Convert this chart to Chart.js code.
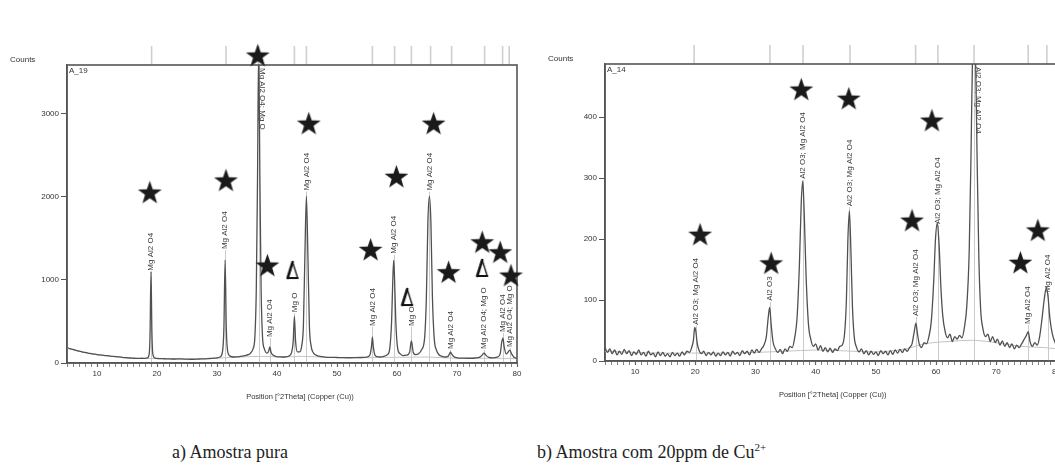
<!DOCTYPE html>
<html><head><meta charset="utf-8">
<script src="https://cdn.jsdelivr.net/npm/chart.js@4"></script>
<style>
html,body{margin:0;padding:0;background:#fff;overflow:hidden;width:1055px;height:468px;position:relative;}
#cA{position:absolute;left:0;top:0;}
#cB{position:absolute;left:530px;top:0;}
.cap{position:absolute;top:442px;font-family:"Liberation Serif","Times New Roman",serif;font-size:18px;line-height:20px;color:#222;white-space:nowrap;}
.cap sup{font-size:11px;vertical-align:7px;line-height:0;}
</style></head>
<body>
<canvas id="cA" width="530" height="430"></canvas>
<canvas id="cB" width="545" height="430"></canvas>
<div class="cap" style="left:172px">a) Amostra pura</div>
<div class="cap" style="left:537px">b) Amostra com 20ppm de Cu<sup>2+</sup></div>
<script>
// ---------- data: sample A_19 (pure) ----------
const pureScan = [[5.0,185],[5.5,172],[6.0,163],[6.5,151],[7.0,143],[7.5,135],[8.0,127],[8.5,120],[9.0,114],[9.5,108],[10.0,102],[10.5,97],[11.0,93],[11.5,89],[12.0,86],[12.5,81],[13.0,78],[13.5,74],[14.0,71],[14.5,66],[15.0,63],[15.5,60],[16.0,58],[16.5,56],[17.0,55],[17.5,57],[18.0,56],[18.4,62],[18.7,110],[18.85,380],[19.0,1100],[19.15,380],[19.3,110],[19.6,62],[20.0,56],[20.5,53],[21.0,52],[21.5,50],[22.0,50],[22.5,48],[23.0,48],[23.5,49],[24.0,50],[24.5,47],[25.0,47],[25.5,45],[26.0,45],[26.5,46],[27.0,48],[27.5,49],[28.0,50],[28.5,52],[29.0,55],[29.5,58],[30.0,62],[30.5,72],[30.9,130],[31.15,420],[31.35,1240],[31.55,420],[31.8,130],[32.2,82],[32.7,72],[33.2,74],[33.7,78],[34.2,83],[34.7,90],[35.2,100],[35.6,120],[36.0,170],[36.3,300],[36.55,900],[36.75,2200],[36.95,3800],[37.15,2200],[37.35,900],[37.6,300],[37.9,170],[38.3,120],[38.6,140],[38.8,195],[39.0,130],[39.4,92],[39.9,78],[40.5,73],[41.0,72],[41.5,75],[42.0,85],[42.4,120],[42.7,260],[42.9,560],[43.1,260],[43.4,135],[43.8,135],[44.1,200],[44.4,450],[44.65,1300],[44.9,2010],[45.15,1300],[45.4,450],[45.7,200],[46.0,130],[46.5,95],[47.0,82],[47.5,76],[48.0,72],[49.0,68],[50.0,66],[51.0,64],[52.0,63],[53.0,64],[54.0,66],[55.0,72],[55.5,100],[55.75,200],[55.9,310],[56.05,200],[56.3,100],[56.7,76],[57.2,72],[57.8,80],[58.4,100],[58.8,180],[59.1,500],[59.3,1000],[59.45,1240],[59.6,1000],[59.8,500],[60.1,180],[60.5,112],[61.0,90],[61.6,95],[62.1,130],[62.4,265],[62.7,130],[63.1,100],[63.6,110],[64.1,160],[64.6,300],[64.9,800],[65.15,1700],[65.4,2010],[65.65,1700],[65.9,800],[66.2,300],[66.6,150],[67.0,100],[67.5,80],[68.0,72],[68.5,80],[68.75,110],[68.9,130],[69.1,110],[69.5,76],[70.0,63],[71.0,58],[72.0,57],[73.0,60],[73.8,70],[74.2,95],[74.5,120],[74.8,95],[75.3,68],[76.0,62],[76.7,70],[77.2,110],[77.45,250],[77.65,300],[77.85,200],[78.2,110],[78.5,130],[78.8,155],[79.1,110],[79.5,70],[80.0,55]];
const pureBackground = [[5,178],[8,124],[10,100],[13,76],[16,57],[20,53],[25,46],[30,58],[33,70],[36,78],[38,80],[41,72],[44,80],[47,72],[50,64],[55,64],[58,68],[62,70],[65,72],[68,62],[72,56],[76,58],[80,52]];
const pureRefLines = [19.1,31.5,36.9,42.9,44.9,55.9,59.6,62.4,65.6,69.1,74.6,77.6,78.7];
const pureLabelTheta  = [19.0,31.35,36.95,38.8,42.9,44.9,55.9,59.45,62.4,65.4,68.9,74.5,77.6,78.8];
const pureLabelCounts = [1100,1360,3590,300,600,2065,435,1305,435,2065,157,157,360,180];
const pureLabelText = ["Mg Al2 O4","Mg Al2 O4","Mg Al2 O4; Mg O","Mg Al2 O4","Mg O","Mg Al2 O4","Mg Al2 O4","Mg Al2 O4","Mg O","Mg Al2 O4","Mg Al2 O4","Mg Al2 O4; Mg O","Mg Al2 O4","Mg Al2 O4; Mg O"];
const pureStarTheta  = [18.8,31.5,36.8,38.4,45.3,55.6,59.9,66.1,68.6,74.2,77.2,79.0];
const pureStarCounts = [2060,2205,3710,1180,2890,1370,2250,2890,1100,1460,1340,1060];
const pureTriTheta  = [42.6,61.7,74.2];
const pureTriCounts = [1120,795,1145];
const pureYTicks = [0,1000,2000,3000];

// ---------- data: sample A_14 (20 ppm Cu2+) ----------
const cuScan = [[5.0,22],[5.4,14],[5.8,20],[6.2,12],[6.6,18],[7.0,10],[7.4,16],[7.8,11],[8.2,19],[8.6,12],[9.0,17],[9.4,9],[9.8,15],[10.2,11],[10.6,18],[11.0,10],[11.4,14],[11.8,8],[12.2,16],[12.6,10],[13.0,13],[13.4,7],[13.8,15],[14.2,9],[14.6,14],[15.0,8],[15.4,12],[15.8,7],[16.2,14],[16.6,9],[17.0,13],[17.4,8],[17.8,15],[18.2,10],[18.6,16],[19.0,14],[19.4,22],[19.7,35],[19.9,55],[20.1,48],[20.3,30],[20.6,18],[21.0,12],[21.4,16],[21.8,9],[22.2,14],[22.6,10],[23.0,15],[23.4,8],[23.8,13],[24.2,9],[24.6,15],[25.0,10],[25.4,14],[25.8,8],[26.2,16],[26.6,11],[27.0,14],[27.4,9],[27.8,17],[28.2,12],[28.6,16],[29.0,10],[29.4,18],[29.8,13],[30.2,19],[30.6,14],[31.0,20],[31.4,26],[31.8,40],[32.1,70],[32.35,88],[32.6,60],[32.9,32],[33.3,20],[33.7,14],[34.1,19],[34.5,12],[34.9,20],[35.3,16],[35.7,24],[36.1,22],[36.5,38],[36.9,70],[37.3,160],[37.6,260],[37.85,295],[38.1,240],[38.4,140],[38.8,60],[39.2,35],[39.6,24],[40.0,28],[40.4,18],[40.8,25],[41.2,16],[41.6,22],[42.0,15],[42.4,21],[42.8,14],[43.2,20],[43.6,17],[44.0,24],[44.4,26],[44.8,45],[45.1,100],[45.35,200],[45.6,246],[45.85,180],[46.1,90],[46.4,40],[46.8,22],[47.2,15],[47.6,20],[48.0,12],[48.4,17],[48.8,10],[49.2,16],[49.6,11],[50.0,15],[50.4,9],[50.8,17],[51.2,12],[51.6,16],[52.0,10],[52.4,17],[52.8,11],[53.2,18],[53.6,13],[54.0,19],[54.4,14],[54.8,20],[55.2,16],[55.6,22],[56.0,28],[56.4,50],[56.65,62],[56.9,45],[57.2,28],[57.6,22],[58.0,30],[58.4,28],[58.8,40],[59.2,65],[59.6,130],[59.9,200],[60.2,226],[60.5,190],[60.8,120],[61.1,75],[61.5,48],[61.9,38],[62.3,44],[62.7,32],[63.1,40],[63.5,36],[63.9,42],[64.3,38],[64.7,55],[65.1,90],[65.5,180],[65.8,340],[66.05,500],[66.3,540],[66.55,500],[66.8,340],[67.1,170],[67.4,85],[67.8,52],[68.2,40],[68.6,44],[69.0,32],[69.4,40],[69.8,30],[70.2,36],[70.6,26],[71.0,33],[71.4,24],[71.8,30],[72.2,22],[72.6,28],[73.0,20],[73.4,26],[73.8,22],[74.2,28],[74.6,35],[75.0,42],[75.3,48],[75.6,32],[76.0,24],[76.4,30],[76.8,26],[77.2,40],[77.6,70],[77.95,100],[78.3,120],[78.6,105],[78.9,70],[79.3,45],[79.7,32],[80.0,25]];
const cuBackground = [[5,16],[15,13],[25,13],[35,16],[40,18],[50,15],[55,20],[58,28],[62,32],[66,34],[70,30],[74,24],[78,22],[80,20]];
const cuRefLines = [19.8,32.4,37.9,45.7,56.6,60.3,66.3,75.3,78.4];
const cuLabelTheta  = [20.1,32.35,37.85,45.6,56.65,60.3,66.3,75.3,78.6];
const cuLabelCounts = [58,97,297,252,72,223,487,59,111];
const cuLabelText = ["Al2 O3; Mg Al2 O4","Al2 O3","Al2 O3; Mg Al2 O4","Al2 O3; Mg Al2 O4","Al2 O3; Mg Al2 O4","Al2 O3; Mg Al2 O4","Al2 O3; Mg Al2 O4","Mg Al2 O4","Mg Al2 O4"];
const cuStarTheta  = [20.8,32.6,37.6,45.5,56.0,59.3,64.6,74.0,76.9];
const cuStarCounts = [208,161,446,431,231,395,552,162,215];
const cuYTicks = [0,100,200,300,400];

const xTickLabels = [10,20,30,40,50,60,70,80];
const axisTitle = "Position [°2Theta] (Copper (Cu))";

// ---------- marker images ----------
function makeStar(r){
  const s = Math.ceil(r*2+2), c = document.createElement('canvas'); c.width = s; c.height = s;
  const g = c.getContext('2d'); g.translate(s/2, s/2 + r*0.1);
  g.beginPath();
  for (let i=0;i<10;i++){ const rad = i%2 ? r*0.4 : r; const a = -Math.PI/2 + i*Math.PI/5; g.lineTo(rad*Math.cos(a), rad*Math.sin(a)); }
  g.closePath(); g.fillStyle = '#1a1a1a'; g.fill(); return c;
}
function makeTri(){
  const c = document.createElement('canvas'); c.width = 14; c.height = 20;
  const g = c.getContext('2d'); g.strokeStyle = '#111'; g.lineCap='round';
  g.lineWidth = 2.6; g.beginPath(); g.moveTo(7,2); g.lineTo(2,18); g.stroke();
  g.lineWidth = 1.3; g.beginPath(); g.moveTo(7,2); g.lineTo(12,18); g.stroke();
  g.lineWidth = 2.2; g.beginPath(); g.moveTo(2,18); g.lineTo(12,18); g.stroke();
  return c;
}
const starImg = makeStar(12.5), triImg = makeTri();

const FONT = '"Liberation Sans", Arial, sans-serif';
const pairs = a => a.map(p => ({x:p[0], y:p[1]}));
const zip = (xs, ys) => xs.map((v,i) => ({x:v, y:ys[i]}));

const decor = {
  id:'decor',
  beforeDatasetsDraw(chart, args, o){
    const {ctx, chartArea:ca} = chart, xs = chart.scales.x, ys = chart.scales.y;
    ctx.save();
    // stick lines
    ctx.strokeStyle = '#bdbdbd'; ctx.lineWidth = 0.8;
    o.labTheta.forEach((t,i) => {
      const x = Math.round(xs.getPixelForValue(t)) + 0.5;
      const y = o.labCounts[i] >= ys.max ? ca.top : ys.getPixelForValue(o.labCounts[i]);
      ctx.beginPath(); ctx.moveTo(x, ys.getPixelForValue(0)); ctx.lineTo(x, y); ctx.stroke();
    });
    // reference lines above the frame
    ctx.strokeStyle = '#cfcfcf'; ctx.lineWidth = 1.6;
    o.refs.forEach(t => { const x = xs.getPixelForValue(t); ctx.beginPath(); ctx.moveTo(x, ca.top-19); ctx.lineTo(x, ca.top); ctx.stroke(); });
    // frame
    ctx.strokeStyle = '#555'; ctx.lineWidth = 1.6;
    ctx.strokeRect(ca.left, ca.top, ca.right-ca.left, ca.bottom-ca.top);
    // peak labels
    ctx.fillStyle = '#3a3a3a'; ctx.font = '8px ' + FONT; ctx.textBaseline = 'middle'; ctx.textAlign = 'left';
    o.labTheta.forEach((t,i) => {
      const x = xs.getPixelForValue(t);
      ctx.save();
      if (o.labCounts[i] >= ys.max){ ctx.translate(x+4, ca.top+3); ctx.rotate(Math.PI/2); }
      else { ctx.translate(x, ys.getPixelForValue(o.labCounts[i]) - 1); ctx.rotate(-Math.PI/2); }
      ctx.fillText(o.labText[i], 0, 0); ctx.restore();
    });
    // texts
    ctx.fillStyle = '#333'; ctx.font = '8px ' + FONT; ctx.textBaseline = 'middle';
    ctx.fillText(o.sample, ca.left+2, ca.top+6);
    ctx.fillText('Counts', o.countsX, ca.top-5);
    ctx.font = '7.5px ' + FONT; ctx.textAlign = 'center';
    ctx.fillText(axisTitle, (ca.left+ca.right)/2 + o.titleShift, ca.bottom+34);
    ctx.restore();
  }
};

function build(id, scan, bg, yMax, yTicks, stars, tris, left, top, bottom, padRight, h, opts){
  const datasets = [
    {type:'scatter', data: stars, pointStyle: starImg, pointRadius: 12, clip: false, order: 0},
  ];
  if (tris) datasets.push({type:'scatter', data: tris, pointStyle: triImg, pointRadius: 8, clip: false, order: 0});
  datasets.push({type:'line', data: pairs(scan), borderColor:'#505050', borderWidth:1.3, pointRadius:0, cubicInterpolationMode:'monotone', order: 1});
  datasets.push({type:'line', data: pairs(bg), borderColor:'#c4c4c4', borderWidth:1, pointRadius:0, cubicInterpolationMode:'monotone', order: 2});
  return new Chart(document.getElementById(id), {
    data: {datasets},
    options: {
      responsive:false, animation:false, events:[],
      layout:{padding:{left:0, top: top, right: padRight, bottom:0}},
      plugins:{legend:{display:false}, tooltip:{enabled:false}, decor: opts},
      scales:{
        x:{type:'linear', min:5, max:80,
          afterBuildTicks: s => { const t=[]; for (let v=5; v<=80; v++) t.push({value:v}); s.ticks = t; },
          ticks:{autoSkip:false, maxRotation:0, font:{size:8, family:FONT}, color:'#333', padding:2,
            callback: v => xTickLabels.includes(v) ? String(v) : ''},
          grid:{drawOnChartArea:false, drawTicks:true, tickLength:4, tickColor:'#666', tickWidth: c => (c.tick && c.tick.value % 10 === 0) ? 1.2 : 0.8},
          border:{display:true, color:'#555', width:1.5},
          afterFit: s => { s.height = h - bottom; }
        },
        y:{type:'linear', min:0, max:yMax,
          afterBuildTicks: s => { s.ticks = yTicks.map(v => ({value:v})); },
          ticks:{font:{size:8, family:FONT}, color:'#333', padding:2, callback: v => String(v)},
          grid:{drawOnChartArea:false, tickLength:6, tickColor:'#555', tickWidth:1},
          border:{display:true, color:'#555', width:1.5},
          afterFit: s => { s.width = left; }
        }
      }
    },
    plugins:[decor]
  });
}

build('cA', pureScan, pureBackground, 3590, pureYTicks, zip(pureStarTheta, pureStarCounts), zip(pureTriTheta, pureTriCounts),
  67, 65, 363, 12, 430,
  {refs: pureRefLines, labTheta: pureLabelTheta, labCounts: pureLabelCounts, labText: pureLabelText, sample:'A_19', countsX: 10, titleShift: 8});
build('cB', cuScan, cuBackground, 487, cuYTicks, zip(cuStarTheta, cuStarCounts), null,
  75, 64, 361, 18.5, 430,
  {refs: cuRefLines, labTheta: cuLabelTheta, labCounts: cuLabelCounts, labText: cuLabelText, sample:'A_14', countsX: 18, titleShift: 2});
</script>
</body></html>
